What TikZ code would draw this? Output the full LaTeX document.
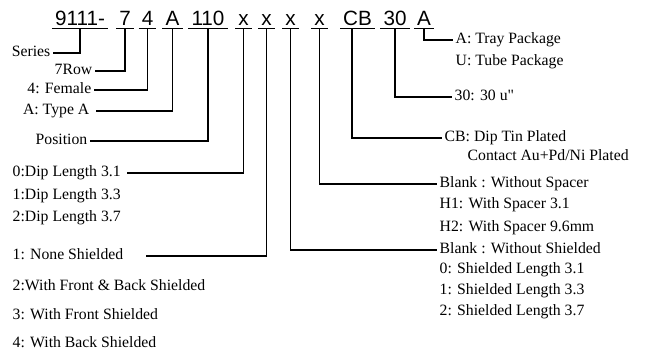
\documentclass[tikz,border=0pt]{standalone}
\usepackage{fontspec}
\setmainfont{Liberation Serif}
\newfontfamily\codefont{Liberation Sans}
\usetikzlibrary{positioning}

\begin{document}
\begin{tikzpicture}[x=0.75pt,y=-0.75pt,line width=1.1pt,
	code/.style={font=\codefont\fontsize{15.5}{17}\selectfont,anchor=base,inner xsep=1.8pt,inner ysep=1.8pt,text depth=0pt},
	lbl/.style={font=\fontsize{11.8}{13}\selectfont,inner sep=1.5pt,text height=8pt,text depth=2.5pt}]
	\useasboundingbox (0,0) rectangle (650,352);

	\node[code] (c9111) at (80,25.5) {9111-};
	\node[code] (cRow) at (125,25.5) {7};
	\node[code] (cFem) at (147.5,25.5) {4};
	\node[code] (cType) at (172.5,25.5) {A};
	\node[code] (cPos) at (208,25.5) {110};
	\node[code] (cDip) at (243.5,25.5) {x};
	\node[code] (cShield) at (266.5,25.5) {x};
	\node[code] (cShLen) at (290.5,25.5) {x};
	\node[code] (cSpacer) at (319.5,25.5) {x};
	\node[code] (cPlate) at (357.5,25.5) {CB};
	\node[code] (cGold) at (395,25.5) {30};
	\node[code] (cPack) at (424,25.5) {A};
	\foreach \n in {c9111,cRow,cFem,cType,cPos,cDip,cShield,cShLen,cSpacer,cPlate,cGold,cPack}
		\draw (\n.south west) -- (\n.south east);

	\node[lbl,anchor=east] (series) at (53,53) {Series};
	\node[lbl,anchor=east] (row) at (95,71) {7Row};
	\node[lbl,anchor=east] (female) at (94,90) {4: Female};
	\node[lbl,anchor=east] (typeA) at (92,111) {A: Type A};
	\node[lbl,anchor=east] (position) at (90,141) {Position};
	\node[lbl,anchor=west] (dipA) at (10,173) {0:Dip Length 3.1};
	\node[lbl,anchor=west] (dipB) at (10,196) {1:Dip Length 3.3};
	\node[lbl,anchor=west] (dipC) at (10,218) {2:Dip Length 3.7};
	\node[lbl,anchor=west] (shA) at (10,256) {1: None Shielded};
	\node[lbl,anchor=west] (shB) at (10,287) {2:With Front \& Back Shielded};
	\node[lbl,anchor=west] (shC) at (10,316) {3: With Front Shielded};
	\node[lbl,anchor=west] (shD) at (10,344) {4: With Back Shielded};

	\node[lbl,anchor=west] (tray) at (453,40) {A: Tray Package};
	\node[lbl,anchor=west] (tube) at (453,62) {U: Tube Package};
	\node[lbl,anchor=west] (gold) at (452,97) {30: 30 u\textquotedbl};
	\node[lbl,anchor=west] (plateA) at (442,138) {CB: Dip Tin Plated};
	\node[lbl,anchor=west] (plateB) at (465,157) {Contact Au+Pd/Ni Plated};
	\node[lbl,anchor=west] (spA) at (437,184) {Blank : Without Spacer};
	\node[lbl,anchor=west] (spB) at (437,205) {H1: With Spacer 3.1};
	\node[lbl,anchor=west] (spC) at (437,228) {H2: With Spacer 9.6mm};
	\node[lbl,anchor=west] (lenA) at (437,250) {Blank : Without Shielded};
	\node[lbl,anchor=west] (lenB) at (437,270) {0: Shielded Length 3.1};
	\node[lbl,anchor=west] (lenC) at (437,291) {1: Shielded Length 3.3};
	\node[lbl,anchor=west] (lenD) at (437,312) {2: Shielded Length 3.7};

	\draw (c9111.south) |- (series.east);
	\draw (cRow.south) |- (row.east);
	\draw (cFem.south) |- (female.east);
	\draw (cType.south) |- ([xshift=3pt]typeA.east);
	\draw (cPos.south) |- (position.east);
	\draw (cDip.south) |- ([xshift=3pt]dipA.east);
	\draw (cShield.south) |- ([xshift=15pt]shA.east);
	\draw (cShLen.south) |- (lenA.west);
	\draw (cSpacer.south) |- (spA.west);
	\draw ([xshift=-4pt]cPlate.south) |- (plateA.west);
	\draw (cGold.south) |- (gold.west);
	\draw (cPack.south) |- (tray.west);
\end{tikzpicture}
\end{document}
